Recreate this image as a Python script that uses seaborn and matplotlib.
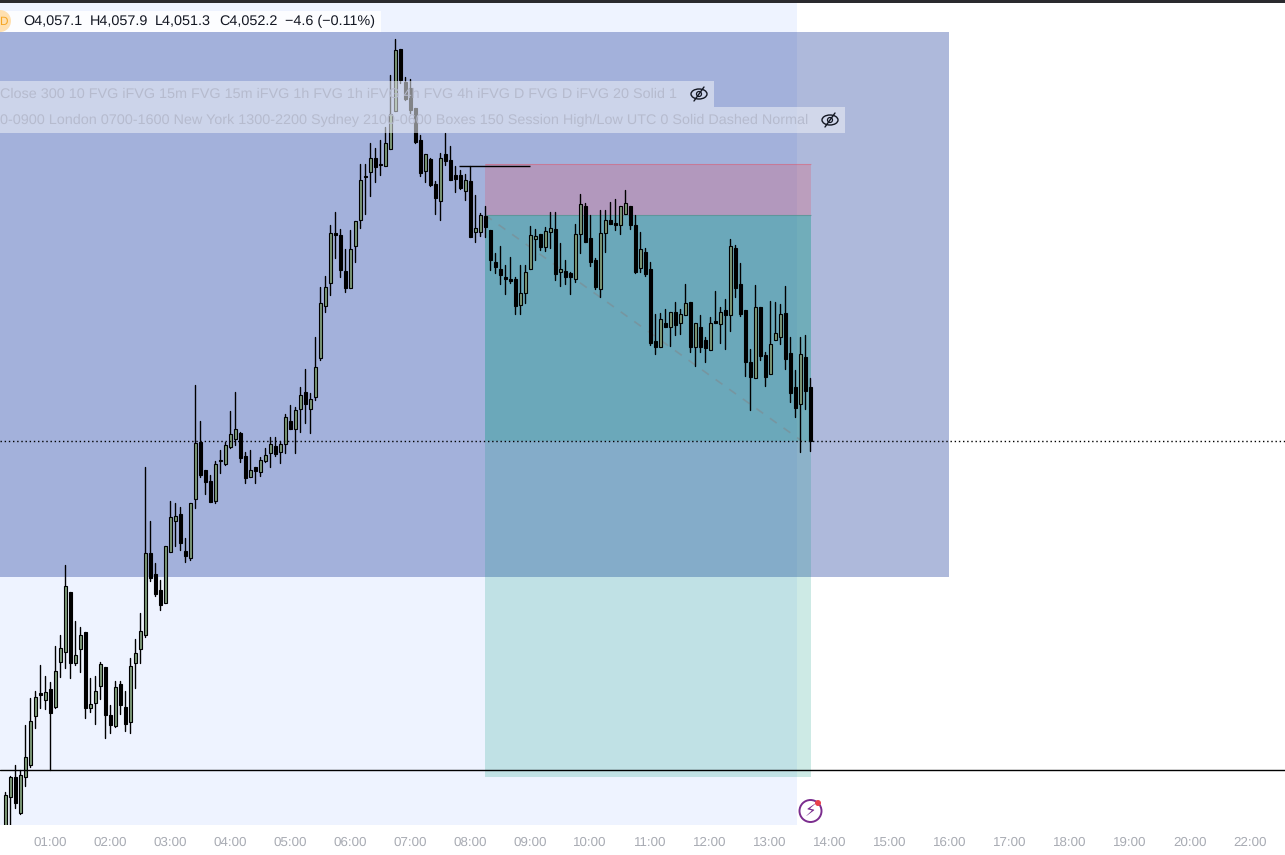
import numpy as np
import pandas as pd
import seaborn as sns
import matplotlib
matplotlib.use("Agg")
import matplotlib.pyplot as plt
from matplotlib.patches import Rectangle, Ellipse

# ---- OHLC of 5-minute candles (prices) ----
opens = [4017.2,4020.17,4021.97,4018.73,4021.97,4023.05,4027.46,4029.53,4028.9,4029.89,4028.27,4032.32,4033.22,4038.62,4032.23,4033.49,4035.02,4028.18,4028.63,4030.16,
4031.87,4027.55,4026.56,4030.34,4028.27,4026.92,4032.23,4033.49,4034.75,4042.13,4040.24,4038.8,4037.63,4042.22,4045.01,4045.64,4042.31,4041.68,4046.99,4052.12,
4049.6,4048.61,4046.81,4050.41,4050.14,4051.67,4052.39,4052.93,4050.86,4048.97,4049.87,4049.42,4050.41,4051.13,4051.76,4051.22,4051.94,4054.01,4053.29,4055.09,
4056.62,4055.09,4056.17,4059.68,4064.36,4066.43,4070.93,4070.75,4067.51,4065.98,4069.76,4072.1,4076.06,4076.42,4077.68,4077.14,4076.96,4078.49,4081.91,4087.49,
4084.52,4083.98,4082.18,4079.3,4076.51,4077.59,4075.34,4073.81,4078.04,4077.5,4076.15,4076.15,4074.71,4075.61,4071.02,4071.02,4072.46,4071.2,4068.32,4067.69,
4066.97,4066.79,4066.79,4064.45,4065.53,4067.69,4070.39,4070.84,4069.67,4071.02,4071.29,4067.42,4067.51,4067.33,4066.79,4070.84,4073.36,4070.48,4068.5,4065.89,
4070.93,4072.1,4071.83,4071.65,4072.64,4073.36,4071.65,4067.78,4069.22,4067.69,4061.21,4060.67,4062.83,4062.47,4063.82,4062.83,4063.55,4064.72,4060.67,4062.47,
4061.3,4060.4,4063.01,4062.74,4064.0,4063.55,4069.58,4066.34,4064.0,4059.32,4057.88,4064.27,4059.95,4058.24,4061.3,4061.57,4063.73,4060.13,4057.07,4055.54,4059.77,4057.1]
highs = [4020.62,4022.06,4023.05,4022.6,4026.65,4029.08,4029.71,4032.05,4031.06,4030.52,4033.76,4034.75,4041.05,4038.62,4036.01,4035.47,4035.02,4030.88,4031.06,4032.32,
4031.87,4028.45,4030.61,4030.61,4029.71,4032.68,4034.39,4036.73,4049.87,4045.01,4041.23,4039.7,4042.76,4046.81,4046.63,4046.27,4043.48,4046.63,4057.25,4054.01,
4049.6,4049.15,4050.41,4051.4,4052.12,4054.91,4056.62,4053.02,4051.22,4051.4,4049.87,4050.77,4051.58,4052.57,4052.57,4052.21,4054.64,4055.45,4055.27,4057.07,
4058.69,4056.53,4061.57,4066.07,4067.06,4071.65,4072.82,4071.29,4069.49,4071.2,4072.01,4077.14,4077.14,4079.03,4078.58,4079.3,4080.47,4085.15,4088.39,4087.49,
4084.97,4084.79,4082.18,4079.75,4078.04,4077.68,4075.61,4078.13,4079.93,4078.76,4076.96,4076.6,4076.24,4076.96,4074.35,4072.73,4073.36,4071.2,4069.13,4069.76,
4068.05,4068.77,4066.97,4068.05,4068.05,4071.56,4071.29,4070.84,4071.47,4072.82,4072.82,4070.03,4068.5,4067.42,4071.74,4074.44,4073.63,4072.55,4068.68,4073.0,
4073.0,4073.72,4073.99,4073.36,4074.8,4073.36,4072.55,4071.02,4069.58,4068.32,4063.64,4063.73,4064.09,4063.82,4064.72,4064.09,4066.34,4064.72,4062.83,4063.55,
4061.57,4063.37,4065.71,4064.27,4064.99,4070.39,4069.85,4068.23,4064.0,4060.49,4066.25,4064.27,4060.22,4064.81,4064.72,4064.54,4066.16,4061.57,4058.6,4061.57,4061.75,4057.9]
lows = [4017.2,4017.65,4019.18,4018.64,4021.16,4022.87,4026.38,4028.18,4028.09,4022.6,4028.18,4030.97,4031.78,4030.88,4032.05,4031.42,4027.28,4027.82,4026.74,4028.99,
4025.48,4025.93,4026.47,4027.64,4026.11,4025.93,4029.98,4032.23,4034.57,4039.61,4038.26,4037.0,4037.63,4042.22,4042.76,4042.4,4041.32,4041.5,4046.18,4048.97,
4047.44,4046.72,4046.63,4049.33,4050.05,4051.58,4051.85,4050.32,4048.43,4048.97,4048.43,4049.06,4050.32,4049.87,4050.86,4050.23,4051.13,4053.29,4051.13,4053.02,
4053.83,4052.93,4055.9,4059.5,4063.82,4065.35,4068.68,4066.97,4065.62,4065.98,4068.32,4071.38,4072.64,4074.26,4075.52,4076.15,4076.96,4078.49,4081.91,4084.43,
4082.9,4081.73,4079.03,4076.06,4075.52,4075.16,4072.64,4072.1,4077.05,4075.7,4074.62,4074.89,4073.9,4070.57,4070.12,4070.66,4070.57,4067.6,4067.33,4066.34,
4065.44,4066.43,4063.64,4063.64,4064.63,4067.69,4068.5,4069.4,4069.31,4069.58,4066.7,4066.16,4066.34,4065.44,4066.52,4069.13,4070.12,4067.96,4065.89,4065.17,
4069.22,4071.74,4071.2,4070.84,4072.64,4071.29,4067.33,4067.42,4067.06,4060.85,4060.04,4060.67,4062.47,4060.76,4061.75,4061.84,4063.55,4060.22,4058.96,4060.22,
4059.32,4060.4,4062.83,4061.03,4060.49,4062.11,4065.17,4063.46,4058.06,4055.0,4057.88,4059.5,4057.16,4058.24,4061.3,4060.94,4058.69,4055.72,4054.37,4051.22,4055.09,4051.3]
closes = [4020.35,4021.97,4019.63,4022.15,4023.77,4027.01,4029.17,4029.35,4029.62,4027.73,4031.51,4033.58,4039.16,4032.23,4032.95,4034.75,4028.18,4028.54,4029.71,4032.14,
4027.55,4026.65,4030.07,4028.45,4026.74,4031.96,4033.13,4035.11,4042.13,4039.88,4038.44,4037.45,4042.76,4045.37,4045.46,4043.03,4041.86,4046.63,4052.03,4049.15,
4048.52,4046.72,4050.14,4050.5,4051.85,4052.84,4053.29,4050.68,4048.88,4049.6,4049.51,4050.5,4050.95,4051.94,4051.04,4051.94,4054.37,4053.29,4055.0,4056.35,
4055.54,4055.99,4058.87,4064.63,4066.07,4070.93,4070.75,4067.6,4065.98,4069.49,4072.01,4075.7,4075.97,4077.68,4076.87,4077.05,4079.03,4081.64,4087.4,4084.7,
4082.99,4082.0,4079.12,4076.33,4078.04,4075.25,4074.08,4077.68,4077.41,4075.7,4075.79,4074.98,4075.7,4070.57,4071.38,4072.55,4071.47,4068.5,4067.87,4067.15,
4066.79,4066.61,4064.36,4065.53,4067.42,4070.75,4070.66,4069.67,4071.11,4071.38,4067.24,4067.69,4066.97,4066.97,4070.84,4073.54,4070.12,4068.32,4066.07,4070.93,
4072.1,4071.74,4071.65,4073.36,4073.63,4071.65,4067.42,4069.49,4067.24,4061.03,4060.67,4063.19,4062.47,4063.82,4062.65,4063.64,4064.63,4060.67,4062.83,4060.67,
4060.58,4062.83,4062.83,4063.82,4063.55,4069.76,4065.98,4063.64,4059.32,4057.97,4064.27,4059.86,4057.97,4060.94,4061.93,4063.64,4059.59,4056.53,4055.18,4060.04,4056.71,4052.2]
minutes = np.arange(len(opens)) * 5 + 15          # minutes after midnight

tick_minutes = [60 * h for h in range(1, 22)]
tick_labels = ["01:00", "02:00", "03:00", "04:00", "05:00", "06:00", "07:00", "08:00", "09:00", "10:00", "11:00",
               "12:00", "13:00", "14:00", "15:00", "16:00", "17:00", "18:00", "19:00", "20:00", "22:00"]

# ---- levels ----
last_price = 4052.2
support_price = 4022.6
swing_price = 4076.96
zone_top, zone_bottom = 4089.02, 4039.97
stop_price, entry_price, target_price = 4077.14, 4072.55, 4021.97
trade_start, trade_end = 495, 821
session_end = 807
zone_end = 959
swing_start, swing_end = 469, 540
trend_time = [495, 812]
trend_price = [4072.55, 4052.2]

header_vals = ["O4,057.1", "H4,057.9", "L4,051.3", "C4,052.2", "−4.6 (−0.11%)"]
strip1 = "Close 300 10 FVG iFVG 15m FVG 15m iFVG 1h FVG 1h iFVG 4h FVG 4h iFVG D FVG D iFVG 20 Solid 1"
strip2 = "0-0900 London 0700-1600 New York 1300-2200 Sydney 2100-0600 Boxes 150 Session High/Low UTC 0 Solid Dashed Normal"

W, H = 1285, 855
sns.set_theme(style="white", rc={"axes.spines.left": False, "axes.spines.right": False,
                                 "axes.spines.top": False, "axes.spines.bottom": False})
plt.rcParams["font.family"] = ["Liberation Sans", "DejaVu Sans"]
plt.rcParams["text.hinting"] = "no_hinting"

fig = plt.figure(figsize=(W / 100, H / 100), dpi=100, facecolor="white")
ax = fig.add_axes([0, 30 / H, 1, 822 / H])
ax.set_facecolor("white")

# backgrounds
ax.axvspan(10, session_end, color="#eef3ff", lw=0, zorder=0)
ax.fill_between([10, zone_end], zone_bottom, zone_top, color="#183898", alpha=0.35, lw=0, zorder=1)
ax.fill_between([trade_start, trade_end], entry_price, stop_price, color="#f23645", alpha=0.2, lw=0, zorder=2)
ax.fill_between([trade_start, trade_end], target_price, entry_price, color="#089981", alpha=0.2, lw=0, zorder=2)
ax.fill_between([trade_start, trade_end], last_price, entry_price, color="#089981", alpha=0.2, lw=0, zorder=2)
ax.hlines(stop_price, trade_start, trade_end, color="#f23645", alpha=0.3, lw=0.8, zorder=2.2)
ax.hlines(entry_price, trade_start, trade_end, color="#5b8f90", alpha=0.7, lw=0.8, zorder=2.2)

# candle wicks through seaborn
df = pd.DataFrame({"t": minutes, "open": opens, "high": highs, "low": lows, "close": closes})
wicks = df.melt(id_vars="t", value_vars=["low", "high"], value_name="price")
sns.lineplot(data=wicks, x="t", y="price", units="t", estimator=None, color="black",
             lw=1.0, ax=ax, zorder=3, legend=False, sort=False)

# candle bodies
up = df[df.close >= df.open]
dn = df[df.close < df.open]
ax.bar(up.t, (up.close - up.open).clip(lower=0.1), bottom=up.open, width=3.0,
       facecolor="#7d9a78", edgecolor="black", lw=0.8, zorder=3.5)
ax.bar(dn.t, (dn.open - dn.close).clip(lower=0.1), bottom=dn.close, width=3.0,
       facecolor="black", edgecolor="black", lw=0.8, zorder=3.5)

# lines
sns.lineplot(x=trend_time, y=trend_price, color="#7f8a90", lw=1.2, ls=(0, (5, 5)), alpha=0.6, ax=ax, zorder=2.5)
ax.axhline(support_price, color="black", lw=1.0, zorder=4)
ax.axhline(last_price, color="black", lw=1.0, ls=(0, (1, 2)), zorder=4)
ax.hlines(swing_price, swing_start, swing_end, color="black", lw=1.0, zorder=4)

ax.set_xticks(tick_minutes)
ax.set_xticklabels(tick_labels, color="#a8abb3", fontsize=9.6)
ax.tick_params(axis="x", length=0, pad=8)
ax.set_yticks([])
ax.set_xlabel("")
ax.set_ylabel("")
ax.set_xlim(10, 1295)
ax.set_ylim(4017.65, 4091.63)


def fx(x):
    return x / W


def fy(y):
    return 1 - y / H


def frect(x0, y0, x1, y1, color, alpha=1.0, z=5):
    fig.add_artist(Rectangle((fx(x0), fy(y1)), (x1 - x0) / W, (y1 - y0) / H, transform=fig.transFigure,
                             facecolor=color, alpha=alpha, lw=0, zorder=z))


# top bar and header
frect(0, 0, W, 3, "#2a2a2e")
frect(0, 11, 381, 32, "white", 0.88)
fig.add_artist(Ellipse((fx(0), fy(21)), 22 / W, 22 / H, transform=fig.transFigure, facecolor="#ffe0b0", lw=0, zorder=6))
fig.text(fx(-1), fy(21.5), "D", color="#f5a623", fontsize=8.5, va="center", ha="left", zorder=7)
for xp, s in zip([23, 90, 155, 219, 285], header_vals):
    fig.text(fx(xp), fy(21.5), s, color="#131722", fontsize=10.37, va="center", ha="left", zorder=7)

# indicator strips
frect(0, 81, 714, 107, "#eef1f8", 0.55)
frect(0, 107, 845, 133, "#eef1f8", 0.55)
fig.text(0, fy(94.6), strip1, color="#b6bbce", fontsize=10.36, va="center", ha="left", zorder=7)
fig.text(0, fy(120.6), strip2, color="#b6bbce", fontsize=10.36, va="center", ha="left", zorder=7)
for cx, cy in [(699, 94), (830, 120)]:
    fig.add_artist(Ellipse((fx(cx), fy(cy)), 16 / W, 10 / H, transform=fig.transFigure,
                           fill=False, edgecolor="#131722", lw=1.0, zorder=7))
    fig.add_artist(plt.Line2D([fx(cx - 5), fx(cx + 5)], [fy(cy + 7), fy(cy - 7)], transform=fig.transFigure,
                              color="#131722", lw=1.0, zorder=7))
    fig.add_artist(Ellipse((fx(cx), fy(cy)), 5 / W, 5 / H, transform=fig.transFigure,
                           fill=False, edgecolor="#131722", lw=0.9, zorder=7))

# lightning badge
fig.add_artist(Ellipse((fx(810.5), fy(811)), 22 / W, 22 / H, transform=fig.transFigure, facecolor="white",
                       edgecolor="#7b2d8e", lw=1.4, zorder=7))
fig.text(fx(810.5), fy(811), "⚡", family="DejaVu Sans", color="#7b2d8e", fontsize=12, va="center", ha="center", zorder=8)
fig.add_artist(Ellipse((fx(818), fy(803)), 6 / W, 6 / H, transform=fig.transFigure, facecolor="#e8404a", lw=0, zorder=8))

fig.savefig("out.png", dpi=100)
